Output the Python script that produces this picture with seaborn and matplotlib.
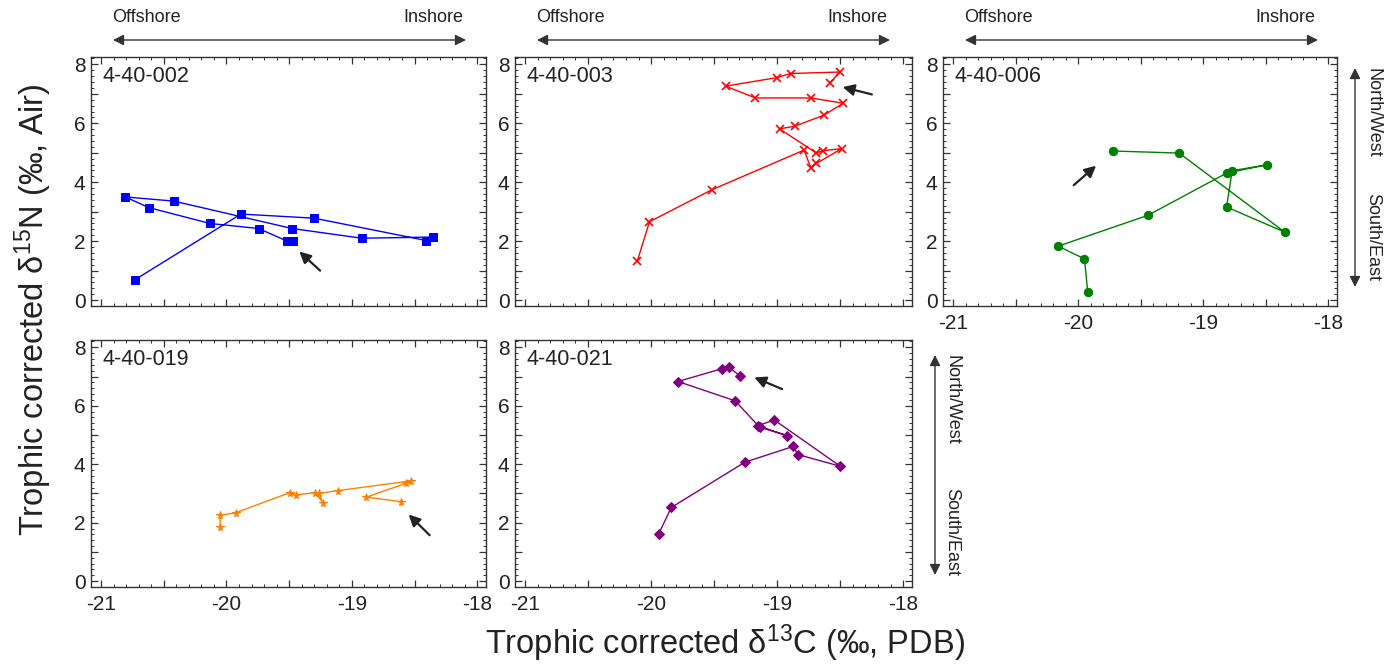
import matplotlib
matplotlib.use("Agg")
import matplotlib.pyplot as plt
import seaborn as sns
import pandas as pd
from matplotlib.ticker import MultipleLocator, FuncFormatter

# ---------------- data ----------------
ids = ["4-40-002", "4-40-003", "4-40-006", "4-40-019", "4-40-021"]

c_002 = [-20.73, -19.885, -19.30, -18.405, -18.355, -18.92, -19.477, -20.42,
         -20.805, -20.62, -20.13, -19.744, -19.52, -19.467]
n_002 = [0.69, 2.92, 2.78, 2.02, 2.14, 2.10, 2.43, 3.36, 3.50, 3.14, 2.60,
         2.43, 2.01, 2.00]

c_003 = [-20.11, -20.013, -19.52, -18.787, -18.733, -18.688, -18.488, -18.64,
         -18.688, -18.981, -18.861, -18.627, -18.475, -18.733, -19.173,
         -19.408, -19.003, -18.893, -18.501, -18.581]
n_003 = [1.32, 2.66, 3.74, 5.09, 4.50, 4.64, 5.14, 5.07, 4.99, 5.81, 5.90,
         6.28, 6.68, 6.86, 6.86, 7.26, 7.55, 7.69, 7.74, 7.375]

c_006 = [-19.923, -19.949, -20.16, -19.443, -18.813, -18.493, -18.768,
         -18.813, -18.349, -19.192, -19.723]
n_006 = [0.28, 1.40, 1.83, 2.875, 4.31, 4.59, 4.39, 3.16, 2.31, 4.99, 5.06]

c_019 = [-20.05, -20.05, -19.925, -19.493, -19.445, -19.29, -19.232, -19.264,
         -19.107, -18.528, -18.565, -18.885, -18.608]
n_019 = [1.86, 2.25, 2.34, 3.03, 2.95, 3.03, 2.69, 3.00, 3.10, 3.43, 3.35,
         2.875, 2.72]

c_021 = [-19.939, -19.84, -19.256, -18.872, -18.835, -18.499, -19.021,
         -19.155, -18.923, -19.14, -19.333, -19.787, -19.437, -19.381, -19.293]
n_021 = [1.625, 2.52, 4.07, 4.61, 4.33, 3.93, 5.51, 5.32, 4.98, 5.27, 6.17,
         6.83, 7.27, 7.31, 7.02]

# arrows: (tail_x, tail_y, head_x, head_y) in data units
arrow_002 = [-19.253, 1.00, -19.419, 1.65]
arrow_003 = [-18.248, 6.98, -18.480, 7.23]
arrow_006 = [-20.035, 3.90, -19.856, 4.56]
arrow_019 = [-18.379, 1.57, -18.547, 2.28]
arrow_021 = [-18.960, 6.57, -19.181, 6.97]

x_ticks = [-21, -20, -19, -18]
y_ticks = [0, 2, 4, 6, 8]

# ---------------- style ----------------
sns.set_theme(style="ticks")
plt.rcParams["font.family"] = ["Liberation Sans", "DejaVu Sans"]
plt.rcParams["mathtext.fontset"] = "custom"
plt.rcParams["mathtext.rm"] = "Liberation Sans"
plt.rcParams["mathtext.it"] = "Liberation Sans:italic"

W, H = 1385, 665
fig = plt.figure(figsize=(W / 100, H / 100), dpi=100)

cols_px = [(91, 486), (515, 912), (943, 1337)]
rows_px = [(57, 306), (340, 587)]


def make_ax(col, row):
    l, r = cols_px[col]
    t, b = rows_px[row]
    return fig.add_axes([l / W, 1 - b / H, (r - l) / W, (b - t) / H])


panels = [
    (0, 0, c_002, n_002, "#0000FF", "s", 5.6, arrow_002, False),
    (1, 0, c_003, n_003, "#FF0000", "x", 5.2, arrow_003, False),
    (2, 0, c_006, n_006, "#008000", "o", 6.0, arrow_006, True),
    (0, 1, c_019, n_019, "#FF8000", "*", 5.8, arrow_019, True),
    (1, 1, c_021, n_021, "#800080", "D", 5.4, arrow_021, True),
]

for (col, row, cx, ny, color, mk, ms, arr, xlab), pid in zip(panels, ids):
    ax = make_ax(col, row)
    df = pd.DataFrame({"c": cx, "n": ny})
    kw = dict(markeredgecolor=color, markerfacecolor=color)
    if mk == "x":
        kw["markeredgewidth"] = 1.2
    sns.lineplot(data=df, x="c", y="n", sort=False, estimator=None,
                 errorbar=None, color=color, marker=mk, markersize=ms,
                 linewidth=1.0, ax=ax, **kw)
    ax.set_xlim(-21.08, -17.93)
    ax.set_ylim(-0.2, 8.25)
    ax.xaxis.set_major_locator(MultipleLocator(0.5))
    ax.xaxis.set_minor_locator(MultipleLocator(0.1))
    ax.yaxis.set_major_locator(MultipleLocator(1))
    ax.yaxis.set_minor_locator(MultipleLocator(0.2))
    ax.xaxis.set_major_formatter(FuncFormatter(
        lambda v, p: f"{int(round(v))}" if abs(v - round(v)) < 1e-6 else ""))
    ax.yaxis.set_major_formatter(FuncFormatter(
        lambda v, p: f"{int(round(v))}" if int(round(v)) % 2 == 0 else ""))
    ax.tick_params(which="both", direction="in", top=True, right=True,
                   colors="#333333", labelcolor="#222222", labelsize=15)
    ax.tick_params(which="major", length=5, width=0.9)
    ax.tick_params(which="minor", length=2.5, width=0.7)
    ax.tick_params(axis="x", pad=6)
    ax.tick_params(axis="y", pad=4)
    if not xlab:
        ax.tick_params(axis="x", labelbottom=False)
    for s in ax.spines.values():
        s.set_color("#333333")
        s.set_linewidth(1.0)
    ax.set_xlabel("")
    ax.set_ylabel("")
    ax.text(0.03, 0.965, pid, transform=ax.transAxes, ha="left", va="top",
            fontsize=15.5, color="#222222")
    ax.annotate("", xy=(arr[2], arr[3]), xytext=(arr[0], arr[1]),
                arrowprops=dict(arrowstyle="-|>", color="#222222", lw=1.6,
                                mutation_scale=17, shrinkA=0, shrinkB=0))


def fig_arrow(x0, y0, x1, y1):
    fig.add_artist(matplotlib.patches.FancyArrowPatch(
        (x0 / W, 1 - y0 / H), (x1 / W, 1 - y1 / H), transform=fig.transFigure,
        arrowstyle="<|-|>", mutation_scale=16, color="#333333", lw=1.0,
        shrinkA=0, shrinkB=0))


# Offshore / Inshore annotations
for off in [0, 424, 852]:
    fig_arrow(113 + off, 40, 466 + off, 40)
    fig.text((146 + off) / W, 1 - 18 / H, "Offshore", ha="center",
             va="center", fontsize=13, color="#222222")
    fig.text((433 + off) / W, 1 - 18 / H, "Inshore", ha="center",
             va="center", fontsize=13, color="#222222")

# North/West - South/East annotations
for ax_x, tx, y0, y1, nw, se in [(1355, 1373, 68, 287, 113, 237),
                                 (935, 952, 355, 575, 400, 532)]:
    fig_arrow(ax_x, y0, ax_x, y1)
    fig.text(tx / W, 1 - nw / H, "North/West", rotation=270, ha="center",
             va="center", fontsize=13, color="#222222")
    fig.text(tx / W, 1 - se / H, "South/East", rotation=270, ha="center",
             va="center", fontsize=13, color="#222222")

fig.text(33 / W, 1 - 310 / H, r"Trophic corrected δ$^{15}$N (‰, Air)",
         rotation=90, ha="center", va="center", fontsize=23.5, color="#222222")
fig.text(725 / W, 1 - 643 / H, r"Trophic corrected δ$^{13}$C (‰, PDB)",
         ha="center", va="center", fontsize=23.5, color="#222222")

fig.savefig("out.png", dpi=100)
